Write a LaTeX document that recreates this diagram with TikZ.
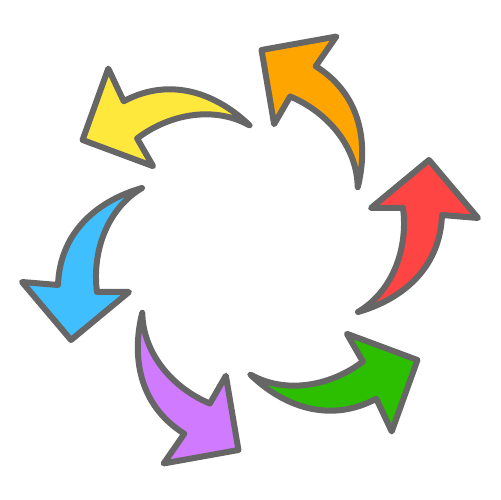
\documentclass[tikz,border=0pt]{standalone}
\definecolor{rimgray}{HTML}{666666}
\definecolor{redfill}{HTML}{FF4444}
\definecolor{orangefill}{HTML}{FFA500}
\definecolor{yellowfill}{HTML}{FFE83C}
\definecolor{bluefill}{HTML}{40BFFF}
\definecolor{purplefill}{HTML}{D07BFF}
\definecolor{greenfill}{HTML}{2CBF00}

\begin{document}
\begin{tikzpicture}[x=0.02cm, y=0.02cm,
  rim/.style={draw=rimgray, line width=0.12cm, line join=round},
  swirl/.style={insert path={(108,-62) .. controls (150,-50) and (190,-20) .. (192,35) -- (228,32) -- (179,90) -- (121,42) -- (153,42) .. controls (158,5) and (145,-40) .. cycle}}]
\useasboundingbox (-250,-250) rectangle (250,250);
\draw[rim, fill=redfill, rotate=0, swirl];
\draw[rim, fill=orangefill, rotate=60, swirl];
\draw[rim, fill=yellowfill, rotate=120, swirl];
\draw[rim, fill=bluefill, rotate=180, swirl];
\draw[rim, fill=purplefill, rotate=240, swirl];
\draw[rim, fill=greenfill, rotate=300, swirl];
\end{tikzpicture}
\end{document}
